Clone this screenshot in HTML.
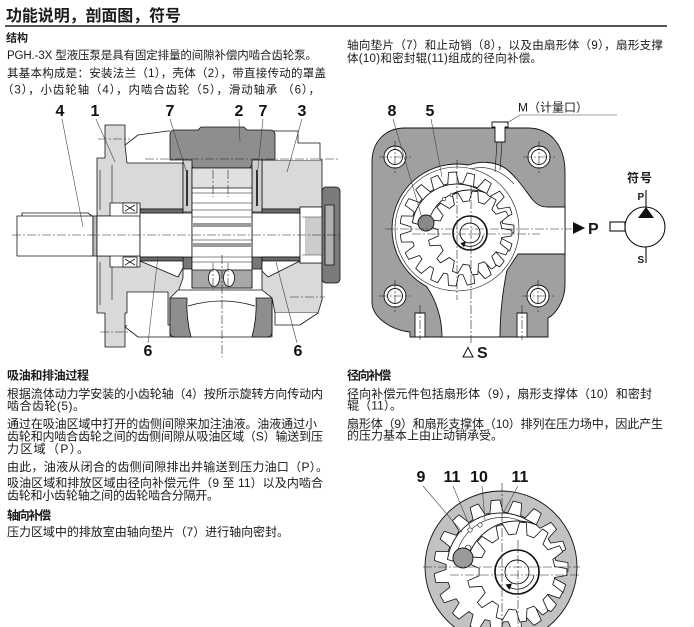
<!DOCTYPE html>
<html><head><meta charset="utf-8">
<style>
html,body{margin:0;padding:0;background:#fff;}
svg{display:block;}
text{font-family:"Liberation Sans","Noto Sans CJK SC",sans-serif;fill:#1a1a1a;}
.b{font-weight:bold;}
.lbl{font-family:"Liberation Sans",sans-serif;font-weight:bold;font-size:16px;fill:#111;text-anchor:middle;}
.ld{stroke:#444;stroke-width:0.6;fill:none;}
.cl{stroke:#222;stroke-width:0.6;fill:none;stroke-dasharray:9 2 2 2;}
</style></head><body>
<svg width="694" height="627" viewBox="0 0 694 627" xmlns="http://www.w3.org/2000/svg">
<!-- ===== TEXT ===== -->
<text x="6" y="21" class="b" font-size="16" textLength="175" lengthAdjust="spacing">功能说明，剖面图，符号</text>
<rect x="5" y="25" width="662" height="2" fill="#555"/>
<text x="6" y="41.3" class="b" font-size="11" textLength="22" lengthAdjust="spacing">结构</text>
<text x="7" y="59" font-size="11.5" textLength="310" lengthAdjust="spacing">PGH.-3X 型液压泵是具有固定排量的间隙补偿内啮合齿轮泵。</text>
<text x="7" y="76.8" font-size="11.5" textLength="319" lengthAdjust="spacing">其基本构成是：安装法兰（1），壳体（2），带直接传动的罩盖</text>
<text x="2" y="93.3" font-size="11.5" textLength="318" lengthAdjust="spacing">（3），小齿轮轴（4），内啮合齿轮（5），滑动轴承 （6），</text>
<text x="347" y="48.8" font-size="11.5" textLength="316" lengthAdjust="spacing">轴向垫片（7）和止动销（8），以及由扇形体（9），扇形支撑</text>
<text x="347" y="61.8" font-size="11.5" textLength="195" lengthAdjust="spacing">体(10)和密封辊(11)组成的径向补偿。</text>

<text x="7" y="379.5" class="b" font-size="12" textLength="82" lengthAdjust="spacing">吸油和排油过程</text>
<text x="7" y="397.8" font-size="12" textLength="316" lengthAdjust="spacing">根据流体动力学安装的小齿轮轴（4）按所示旋转方向传动内</text>
<text x="7" y="410.2" font-size="12" textLength="78" lengthAdjust="spacing">啮合齿轮(5)。</text>
<text x="7" y="427.8" font-size="12" textLength="310" lengthAdjust="spacing">通过在吸油区域中打开的齿侧间隙来加注油液。油液通过小</text>
<text x="7" y="440.5" font-size="12" textLength="316" lengthAdjust="spacing">齿轮和内啮合齿轮之间的齿侧间隙从吸油区域（S）输送到压</text>
<text x="7" y="452.8" font-size="12" textLength="82" lengthAdjust="spacing">力区域（P）。</text>
<text x="7" y="471.2" font-size="12" textLength="321" lengthAdjust="spacing">由此，油液从闭合的齿侧间隙排出并输送到压力油口（P）。</text>
<text x="7" y="487.2" font-size="12" textLength="316" lengthAdjust="spacing">吸油区域和排放区域由径向补偿元件（9 至 11）以及内啮合</text>
<text x="7" y="499.5" font-size="12" textLength="212" lengthAdjust="spacing">齿轮和小齿轮轴之间的齿轮啮合分隔开。</text>
<text x="7" y="519.5" class="b" font-size="12" textLength="44" lengthAdjust="spacing">轴向补偿</text>
<text x="7" y="536.2" font-size="12" textLength="282" lengthAdjust="spacing">压力区域中的排放室由轴向垫片（7）进行轴向密封。</text>

<text x="347" y="379.5" class="b" font-size="12" textLength="44" lengthAdjust="spacing">径向补偿</text>
<text x="347" y="397.8" font-size="12" textLength="305" lengthAdjust="spacing">径向补偿元件包括扇形体（9），扇形支撑体（10）和密封</text>
<text x="347" y="409.5" font-size="12" textLength="55" lengthAdjust="spacing">辊（11）。</text>
<text x="347" y="427.8" font-size="12" textLength="316" lengthAdjust="spacing">扇形体（9）和扇形支撑体（10）排列在压力场中，因此产生</text>
<text x="347" y="439.5" font-size="12" textLength="156" lengthAdjust="spacing">的压力基本上由止动销承受。</text>

<!-- ===== LEFT SECTION DRAWING ===== -->
<g stroke="#111" stroke-width="0.8" stroke-linejoin="round">
 <path fill="#d9d9d9" d="M97,158 L105,158 L105,125 L125,125 L125,145 L127,163 L183,163 L183,209 L140,209 L140,203 L110,203 L110,216 L97,216 Z"/>
 <path fill="#d9d9d9" d="M97,256 L110,256 L110,267 L140,267 L140,261 L183,261 L183,278 L178,292 L178,325 L168,325 L168,292 L127,292 L127,313 L125,313 L125,347 L105,347 L105,313 L97,313 Z"/>
 <path fill="none" stroke-width="0.6" d="M100,170 L100,210 M100,262 L100,305 M112,165 L112,203 M112,267 L112,300"/>
 <path fill="#d9d9d9" d="M262,160 L322,160 L322,207 L300,207 L300,209 L262,209 Z"/>
 <path fill="#fff" d="M272,160 L272,131 L298,131 L298,143 L320,143 L320,160"/>
 <path fill="#d9d9d9" d="M262,261 L300,261 L300,263 L322,263 L322,300 L318,313 L275,313 L272,298 L262,290 Z"/>
 <path fill="#fff" d="M275,313 L275,325 L300,325 L318,313"/>
 <path fill="#8e8e8e" d="M170,135 Q170,130 175,130 L198,130 L201,127 L244,127 L247,130 L270,130 Q275,130 275,135 L275,160 L255,160 L250,168 L193,168 L188,160 L170,160 Z"/>
 <path fill="#fff" d="M178,290 L262,290 L272,298 L272,337 L170,337 L170,298 Z"/>
 <path fill="#8e8e8e" d="M170,298 L187,298 Q186,318 191,337 L175,337 Q170,337 170,332 Z"/>
 <path fill="#8e8e8e" d="M256,298 L272,298 L272,332 Q272,337 267,337 L252,337 Q257,318 256,298 Z"/>
 <path fill="none" d="M188,306 Q222,296 255,306"/>
 <rect x="183" y="160" width="9" height="52" fill="#cfcfcf"/>
 <rect x="252" y="160" width="10" height="52" fill="#cfcfcf"/>
 <rect x="186" y="170" width="2" height="36" fill="#333" stroke="none"/>
 <rect x="256" y="170" width="2" height="36" fill="#333" stroke="none"/>
 <rect x="183" y="257" width="9" height="12" fill="#777"/>
 <rect x="252" y="257" width="10" height="12" fill="#777"/>
 <rect x="17" y="216" width="76" height="40" fill="#fff"/>
 <path fill="none" d="M22,216 L22,213 L88,213 L92,216"/>
 <rect x="93" y="216" width="4" height="40" fill="#bdbdbd"/>
 <rect x="97" y="216" width="43" height="40" fill="#fff"/>
 <rect x="140" y="213" width="52" height="44" fill="#fff"/>
 <rect x="252" y="213" width="48" height="44" fill="#fff"/>
 <rect x="140" y="209" width="43" height="4" fill="#6a6a6a"/>
 <rect x="140" y="257" width="43" height="4" fill="#6a6a6a"/>
 <rect x="262" y="209" width="38" height="4" fill="#6a6a6a"/>
 <rect x="262" y="257" width="38" height="4" fill="#6a6a6a"/>
 <rect x="192" y="168" width="60" height="120" fill="#fff"/>
 <rect x="192" y="168" width="60" height="20" fill="#e0e0e0"/>
 <rect x="192" y="270" width="60" height="18" fill="#a8a8a8"/>
 <rect x="192" y="223" width="60" height="4" fill="#9a9a9a" stroke="none"/>
 <rect x="192" y="243" width="60" height="4" fill="#9a9a9a" stroke="none"/>
 <path fill="none" stroke-width="0.6" d="M192,193 H252 M192,203 H252 M192,210 H252 M192,217 H252 M192,240 H252 M192,257 H252 M192,262 H252"/>
 <ellipse cx="214" cy="278" rx="5.5" ry="8.5" fill="#fff"/>
 <ellipse cx="229" cy="278" rx="5.5" ry="8.5" fill="#fff"/>
 <path fill="#fff" d="M140,261 L183,261 L183,268 L178,277 Z"/>
 <path fill="#fff" d="M262,261 L300,261 L268,277 L262,271 Z"/>
 <rect x="123" y="203" width="14" height="10" fill="#fff"/>
 <path fill="none" d="M125,205 L135,211 M125,211 L135,205"/>
 <rect x="123" y="257" width="14" height="10" fill="#fff"/>
 <path fill="none" d="M125,259 L135,265 M125,265 L135,259"/>
 <rect x="300" y="207" width="22" height="56" fill="#fff"/>
 <path fill="none" stroke-width="0.5" stroke="#333" d="M302,217 H322 M302,255 H322 M306,217 V255 M308,217 V255 M310,217 V255 M312,217 V255 M314,217 V255 M316,217 V255 M318,217 V255 M320,217 V255"/>
 <rect x="322" y="187" width="18" height="96" rx="4" fill="#7a7a7a"/>
 <rect x="325" y="205" width="9" height="60" fill="#b0b0b0"/>
 <path fill="none" d="M125,145 L138,135 L168,131 L170,131 M127,325 L125,327 L138,337 L170,337"/>
</g>
<path class="cl" d="M12,235 H340 M145,159 H340 M98,139 H130 M100,332 H132 M290,297 H325 M222,255 V357 M213,170 V197 M228,170 V197 M213,263 V290 M228,263 V290"/>
<path class="ld" d="M62,119 L83,227 M96,119 L115,162 M170,119 L188,177 M239,119 L240,142 M263,119 L257,177 M302,119 L287,172 M148,343 L158,256 M297,343 L276,262"/>
<text class="lbl" x="60" y="116">4</text>
<text class="lbl" x="95" y="116">1</text>
<text class="lbl" x="170" y="116">7</text>
<text class="lbl" x="239" y="116">2</text>
<text class="lbl" x="263" y="116">7</text>
<text class="lbl" x="302" y="116">3</text>
<text class="lbl" x="148" y="356">6</text>
<text class="lbl" x="298" y="356">6</text>

<!-- ===== RIGHT END VIEW ===== -->
<g stroke="#111" stroke-width="0.9" stroke-linejoin="round">
 <path fill="#a0a0a0" d="M405,128 L528,128 C550,128 565,145 565,172 L565,285 C565,300 556,314 548,318 L548,337 L410,337 L410,332 C392,330 372,318 372,302 L372,162 C372,142 385,128 405,128 Z"/>
 <g fill="#fff">
  <circle cx="395" cy="157" r="11"/><circle cx="395" cy="157" r="7.5"/>
  <circle cx="539" cy="157" r="11"/><circle cx="539" cy="157" r="7.5"/>
  <circle cx="395" cy="296" r="11"/><circle cx="395" cy="296" r="7.5"/>
  <circle cx="538" cy="296" r="11"/><circle cx="538" cy="296" r="7.5"/>
 </g>
 <path fill="#fff" d="M468.3,165 C480,161 494,161 505,168 C516,176 525,190 532,199 C537,205 541,207 548,207 L565,207 L565,254 L518,254 L506.8,270.8 C503,290 500,315 500,337 L442,337 C442,318 436,300 426.5,286.4 A65,65 0 0,1 468.3,165 Z"/>
 <path fill="none" stroke-width="0.6" d="M470,169 C485,165 500,169 514,184"/>
 <circle cx="457" cy="229" r="62" fill="none" stroke-width="0.6"/>
 <path id="r1" fill="none" stroke-width="0.8" d=""/>
 <path fill="#fff" d="M412.4,222.7 A45,45 0 0,1 473.9,187.3 L486.1,193.1 A43,43 0 0,0 427.4,227 Z"/>
 <circle cx="444" cy="199" r="1.8" fill="#fff" stroke-width="0.6"/>
 <circle cx="452" cy="195" r="1.8" fill="#fff" stroke-width="0.6"/>
 <path id="p1" fill="#fff" stroke-width="0.8" d=""/>
 <circle cx="426" cy="223" r="8" fill="#8a8a8a"/>
 <circle cx="470" cy="233" r="17" fill="#fff" stroke-width="1.6"/>
 <circle cx="470" cy="233" r="10" fill="#fff"/>
 <path fill="none" stroke-width="0.8" d="M483.3,235.3 A13.5,13.5 0 0,1 464,245"/>
 <path fill="#111" stroke="none" d="M460.5,243 L466,241.5 L464,247.5 Z"/>
 <rect x="415" y="313" width="10" height="24" fill="#fff"/>
 <rect x="517" y="313" width="10" height="24" fill="#fff"/>
 <path fill="#fff" d="M492,122 L508,122 L508,127 L505,127 L505,142 L495,142 L495,127 L492,127 Z"/>
 <path fill="none" stroke-width="0.6" d="M497,142 L495,172 M502,142 L500,170"/>
</g>
<path class="cl" d="M385,229 H572 M412,234 H540 M471,185 V343 M457,160 V300 M379,157 H411 M395,141 V173 M523,157 H555 M539,141 V173 M379,296 H411 M395,280 V312 M522,296 H554 M538,280 V312 M420,305 V340 M522,305 V340"/>
<path class="ld" d="M393,119 L422,218 M431,119 L442,177 M507,123 L520,115 L617,115"/>
<text class="lbl" x="392" y="116">8</text>
<text class="lbl" x="430" y="116">5</text>
<text x="518" y="111.5" font-size="12" textLength="70" lengthAdjust="spacing">M（计量口）</text>
<path d="M573,222 L585,228 L573,234 Z" fill="#111"/>
<text x="588" y="234" font-family="Liberation Sans" font-weight="bold" font-size="16">P</text>
<path d="M463,357 L468,347.5 L473,357 Z" fill="#fff" stroke="#111" stroke-width="1"/>
<text x="477" y="358" font-family="Liberation Sans" font-weight="bold" font-size="16">S</text>

<!-- ===== SYMBOL ===== -->
<text x="627" y="182" class="b" font-size="12" textLength="25" lengthAdjust="spacing">符号</text>
<text x="637.5" y="200" font-family="Liberation Sans" font-weight="bold" font-size="10">P</text>
<text x="637.5" y="263" font-family="Liberation Sans" font-weight="bold" font-size="10">S</text>
<g stroke="#111" stroke-width="1.1">
 <line x1="646" y1="190" x2="646" y2="207"/>
 <line x1="646" y1="247" x2="646" y2="263"/>
 <rect x="610" y="222" width="15" height="9" fill="#fff"/>
 <circle cx="645" cy="227" r="20" fill="#fff"/>
 <path d="M638,218 L646,207 L654,218 Z" fill="#111" stroke="none"/>
</g>

<!-- ===== DETAIL VIEW ===== -->
<g stroke="#111" stroke-width="0.9" stroke-linejoin="round">
 <circle cx="501" cy="567" r="76" fill="#c2c2c2"/>
 <path id="r2" fill="#fff" stroke-width="0.8" d=""/>
 <path fill="#fff" d="M447.5,559.5 A54,54 0 0,1 521.2,516.9 L536.1,524.7 A51,51 0 0,0 466.5,564.9 Z"/>
 <path fill="none" stroke-width="0.6" d="M456,558 A47,47 0 0,1 525,523"/>
 <circle cx="470" cy="530" r="2.2" fill="#fff" stroke-width="0.6"/>
 <circle cx="480" cy="525" r="2.2" fill="#fff" stroke-width="0.6"/>
 <circle cx="468" cy="548" r="3" fill="#fff" stroke-width="0.6"/>
 <path id="p2" fill="#fff" stroke-width="0.8" d=""/>
 <circle cx="463" cy="558" r="10" fill="#9a9a9a"/>
 <circle cx="517" cy="572" r="22" fill="#fff" stroke-width="1.6"/>
 <circle cx="517" cy="572" r="12" fill="#fff"/>
 <path fill="none" stroke-width="0.8" d="M534,575 A17,17 0 0,1 509,587"/>
 <path fill="#111" stroke="none" d="M505.5,584.5 L512,583.5 L509.5,590 Z"/>
</g>
<path class="cl" d="M423,567 H580 M450,575 H580 M502,483 V627 M518,540 V627"/>
<path class="ld" d="M423,486 L462,532 M453,486 L470,527 M482,486 L485,520 M518,486 L502,515"/>
<text class="lbl" x="421" y="482">9</text>
<text class="lbl" x="452" y="482">11</text>
<text class="lbl" x="479" y="482">10</text>
<text class="lbl" x="520" y="482">11</text>
</svg>
<script>
function g(cx,cy,n,rr,rt,ph){
  var p=2*Math.PI/n, d='';
  for(var i=0;i<n;i++){
    var a=ph+i*p;
    var pts=[[a-0.5*p,rr],[a-0.3*p,rr],[a-0.14*p,rt],[a+0.14*p,rt],[a+0.3*p,rr]];
    for(var j=0;j<pts.length;j++){
      var x=(cx+pts[j][1]*Math.cos(pts[j][0])).toFixed(1),
          y=(cy+pts[j][1]*Math.sin(pts[j][0])).toFixed(1);
      d+=(i===0&&j===0?'M':'L')+x+','+y+' ';
    }
  }
  return d+'Z';
}
document.getElementById('r1').setAttribute('d',g(457,229,19,57,46,Math.PI/19));
document.getElementById('p1').setAttribute('d',g(470,233,13,32,42,0));
document.getElementById('r2').setAttribute('d',g(501,567,19,67,55,Math.PI/19));
document.getElementById('p2').setAttribute('d',g(517,572,13,38,50,0));
</script>
</body></html>
